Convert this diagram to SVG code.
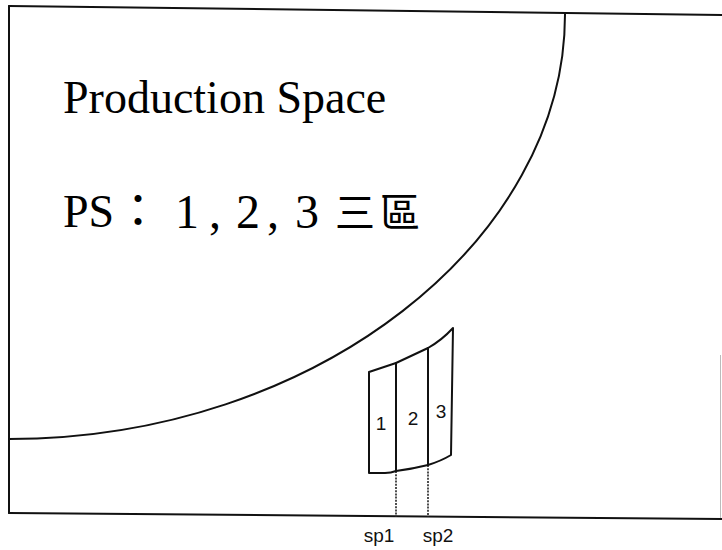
<svg xmlns="http://www.w3.org/2000/svg" width="722" height="550" viewBox="0 0 722 550">
<style>
.ln{fill:none;stroke:#111;stroke-width:2;stroke-linejoin:round;stroke-linecap:round}
.dot{fill:none;stroke:#222;stroke-width:1.6;stroke-dasharray:2 1.2}
.serif{font-family:"Liberation Serif","Times New Roman",serif;fill:#000}
.cjk{font-family:"Noto Sans CJK TC","Noto Sans CJK SC",sans-serif;fill:#000}
.sans{font-family:"Liberation Sans",Arial,sans-serif;fill:#111}
</style>
<rect width="722" height="550" fill="#fff"/>
<g id="frame">
<path class="ln" d="M9,6 L722,15"/>
<path class="ln" d="M9,6 L9,513"/>
<path class="ln" d="M9,513 L722,519"/>
<path d="M720.5,355 L720.5,518" stroke="#bbb" stroke-width="1"/>
</g>
<g id="production-space">
<path class="ln" d="M9,439 C316,439 566,240 565,13"/>
</g>
<g id="texts">
<text class="serif" x="63" y="113" font-size="46">Production Space</text>
<text class="serif" x="63" y="227" font-size="46">PS</text>
<text class="cjk" x="115" y="227" font-size="46">：</text>
<text class="serif" font-size="48" y="228"><tspan x="175">1</tspan><tspan x="209">,</tspan><tspan x="236">2</tspan><tspan x="267">,</tspan><tspan x="295">3</tspan></text>
<text class="cjk" x="335" y="227" font-size="40" letter-spacing="5">三區</text>
</g>
<g id="connectors">
<path class="dot" d="M396,471 L396,517"/>
<path class="dot" d="M428,465 L428,517"/>
</g>
<g id="region-1">
<path class="ln" d="M396,363 L369,372 L369,473 L385,473 Q391,473 396,471"/>
<text class="sans" x="381" y="430" font-size="19" text-anchor="middle">1</text>
</g>
<g id="region-2">
<path class="ln" d="M396,363 L428,348 M396,363 L396,471 Q412,469 428,465 M428,348 L428,465"/>
<text class="sans" x="413" y="425" font-size="19" text-anchor="middle">2</text>
</g>
<g id="region-3">
<path class="ln" d="M428,348 Q442,340 453,328 L451,455 Q441,461 428,465"/>
<text class="sans" x="441" y="418" font-size="19" text-anchor="middle">3</text>
</g>
<g id="labels">
<text class="sans" x="379" y="542" font-size="19" text-anchor="middle">sp1</text>
<text class="sans" x="438" y="542" font-size="19" text-anchor="middle">sp2</text>
</g>
</svg>
